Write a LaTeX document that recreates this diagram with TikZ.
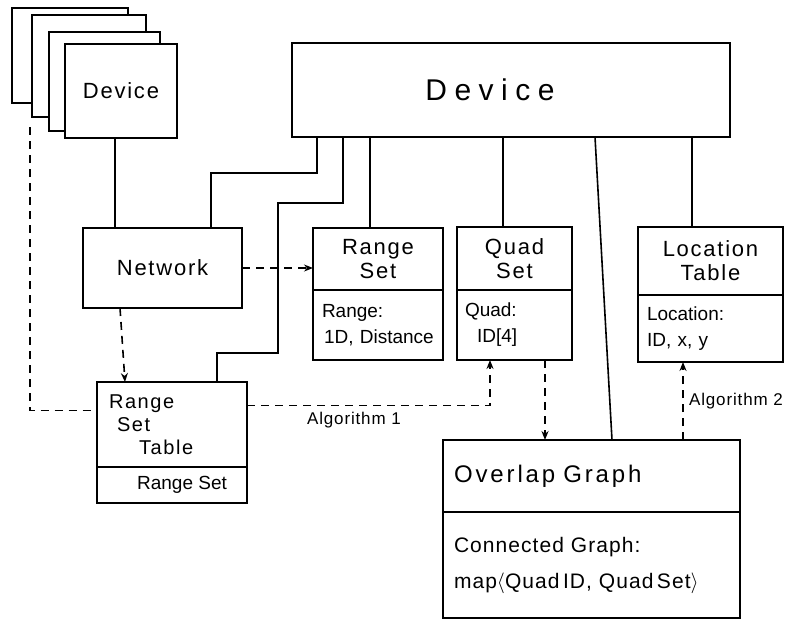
\documentclass[tikz,border=0pt]{standalone}
\usepackage{fontspec}
\setmainfont{Liberation Sans}
\usepackage{tikz}
\usetikzlibrary{positioning,arrows.meta}
\newcommand{\bigfnt}{\fontsize{30}{34}\selectfont\addfontfeature{LetterSpace=25}}
\newcommand{\hfnt}{\fontsize{22}{24}\selectfont\addfontfeature{LetterSpace=8}}
\newcommand{\cfnt}{\fontsize{19}{26}\selectfont}
\newcommand{\lfnt}{\fontsize{17}{20}\selectfont\addfontfeature{LetterSpace=5}}

\begin{document}
\begin{tikzpicture}[x=1pt,y=-1pt,>={Stealth[length=9pt,width=7pt]},line width=1.6pt,
  box/.style={draw,fill=white,outer sep=0pt,inner sep=0pt,font=\hfnt},
  dline/.style={dash pattern=on 8pt off 6pt}]
\useasboundingbox (0,0) rectangle (795,621);
% stack of devices
\node[box,minimum width=116pt,minimum height=95pt] (dev4) at (70,55.5) {};
\node[box,minimum width=114pt,minimum height=102pt] (dev3) at (89,66) {};
\node[box,minimum width=111pt,minimum height=99pt] (dev2) at (104.5,81.5) {};
\node[box,minimum width=112pt,minimum height=94pt] (dev1) at (121,91) {Device};
\node[box,minimum width=438pt,minimum height=94pt,font=\bigfnt] (device) at (511,90) {Device\hspace*{42pt}};
\node[box,minimum width=159pt,minimum height=80pt] (net) at (162.5,268) {Network};
% range set
\node[box,minimum width=130pt,minimum height=62pt,align=center] (rs) at (378,259) {Range\\Set};
\node[box,minimum width=130pt,minimum height=70pt,below=0pt of rs,text width=112pt,align=left,font=\cfnt] (rsb) {Range:\\\hspace*{2pt}1D, Distance};
% quad set
\node[box,minimum width=115pt,minimum height=63pt,align=center] (qs) at (514.5,258.5) {Quad\\Set};
\node[box,minimum width=115pt,minimum height=70pt,below=0pt of qs,text width=99pt,align=left,font=\cfnt] (qsb) {Quad:\\\hspace*{12pt}ID[4]};
% location table
\node[box,minimum width=145pt,minimum height=68pt,align=center] (lt) at (710.5,261) {Location\\Table};
\node[box,minimum width=145pt,minimum height=67pt,below=0pt of lt,text width=127pt,align=left,font=\cfnt] (ltb) {Location:\\ID, x, y};
% range set table
\node[box,minimum width=150pt,minimum height=85pt,text width=126pt,align=left,font={\fontsize{20}{23}\selectfont\addfontfeature{LetterSpace=8}}] (rst) at (172,424.5) {Range\\\hspace*{8pt}Set\\\hspace*{30pt}Table};
\node[box,minimum width=150pt,minimum height=36pt,below=0pt of rst,font=\cfnt] (rstb) {\hspace*{20pt}Range Set};
% overlap graph
\node[box,minimum width=297pt,minimum height=72pt,text width=275pt,align=left,font={\fontsize{24}{28}\selectfont\addfontfeature{LetterSpace=12}}] (ov) at (591.5,476) {Overlap Graph};
\node[box,minimum width=297pt,minimum height=106pt,below=0pt of ov,text width=275pt,align=left,font={\fontsize{21}{26}\selectfont\addfontfeature{LetterSpace=5}}] (ovb) {Connected Graph:\\[10pt]map$\langle$Quad\,ID, Quad\,Set$\rangle$};

% solid links to the device
\draw ([xshift=-6pt]dev1.south) -- ([xshift=-6pt]dev1.south |- net.north);
\draw ([xshift=48.5pt]net.north) -- ++(0,-55) -| ([xshift=25pt]device.south west);
\draw ([xshift=45pt]rst.north) -- ++(0,-29) -- ++(61,0) -- ++(0,-150) -| ([xshift=51pt]device.south west);
\draw ([xshift=-8pt]rs.north) -- ([xshift=-8pt]rs.north |- device.south);
\draw ([xshift=-11.5pt]qs.north) -- ([xshift=-11.5pt]qs.north |- device.south);
\draw ([xshift=-18.5pt]lt.north) -- ([xshift=-18.5pt]lt.north |- device.south);
\draw ([xshift=303pt]device.south west) -- ([xshift=169pt]ov.north west);

% dashed flows
\draw[dline,->] ([xshift=37pt]net.south west) -- ([xshift=28pt]rst.north west);
\draw[dline,->] (net.east) -- (net.east -| rs.west);
\draw[dline] ([xshift=-2pt,yshift=-10pt]dev3.south west) |- ([yshift=14pt]rst.west);
\draw[dline,->] ([yshift=19pt]rst.east) -| ([xshift=33pt]qsb.south west)
  node[pos=0.22,below=3pt,font=\lfnt] {Algorithm 1};
\draw[dline,->] ([xshift=30.5pt]qsb.south) -- ([xshift=30.5pt]qsb.south |- ov.north);
\draw[dline,->] ([xshift=91.5pt]ov.north) -- ([xshift=91.5pt]ov.north |- ltb.south)
  node[midway,right=2pt,font=\lfnt] {Algorithm 2};
\end{tikzpicture}
\end{document}
